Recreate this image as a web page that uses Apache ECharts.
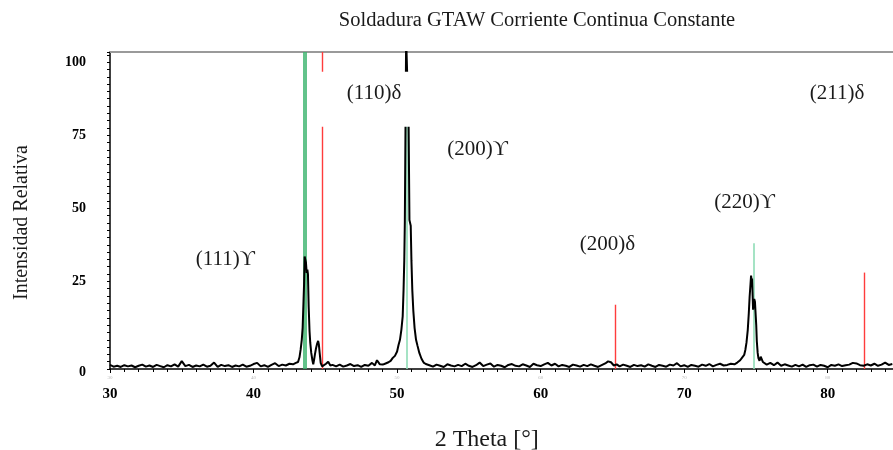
<!DOCTYPE html>
<html>
<head>
<meta charset="utf-8">
<script src="https://cdn.jsdelivr.net/npm/echarts@6/dist/echarts.min.js"></script>
<style>
  html, body { margin: 0; padding: 0; background: #fff; }
  #chart { width: 893px; height: 450px; }
</style>
</head>
<body>
<div id="chart"></div>
<script>
// difractograma: [2theta, intensidad relativa]
var scanLow = [[30.0,-3.6],[30.25,-4.2],[30.5,-3.9],[30.75,-4.3],[31.0,-3.7],[31.25,-4.1],[31.5,-3.8],[31.75,-4.4],[32.0,-3.9],[32.25,-3.5],[32.5,-4.2],[32.75,-3.8],[33.0,-4.3],[33.25,-3.6],[33.5,-4.0],[33.75,-4.4],[34.0,-3.7],[34.25,-4.1],[34.5,-3.4],[34.75,-4.2],[35.0,-2.3],[35.25,-4.0],[35.5,-3.6],[35.75,-4.3],[36.0,-3.8],[36.25,-4.1],[36.5,-3.5],[36.75,-4.2],[37.0,-3.9],[37.25,-2.8],[37.5,-4.3],[37.75,-3.6],[38.0,-4.0],[38.25,-3.7],[38.5,-4.3],[38.75,-3.8],[39.0,-4.1],[39.25,-3.5],[39.5,-4.2],[39.75,-3.9],[40.0,-3.3],[40.25,-2.9],[40.5,-4.1],[40.75,-3.7],[41.0,-4.3],[41.25,-3.6],[41.5,-3.0],[41.75,-4.0],[42.0,-3.5],[42.25,-3.8],[42.5,-3.2],[42.75,-3.4]];
var peak111 = [[42.95,-2.9],[43.1,-2.6],[43.2,-1.0],[43.28,1.6],[43.36,5],[43.42,9.1],[43.48,18],[43.52,24],[43.56,33.5],[43.61,33],[43.65,31.5],[43.7,27.9],[43.75,29],[43.79,27.5],[43.84,16.4],[43.9,8],[43.95,4],[44.02,0.5],[44.1,-2.0],[44.16,-3.4],[44.22,-1.8],[44.28,0.1],[44.35,2.0],[44.42,3.5],[44.5,4.6],[44.55,3.4],[44.6,0.8],[44.68,-3.0],[44.78,-4.1],[44.9,-3.6],[45.05,-3.2],[45.2,-2.5],[45.35,-3.8]];
var scanMid1 = [[45.5,-3.6],[45.75,-4.1],[46.0,-3.5],[46.25,-4.2],[46.5,-3.8],[46.75,-3.3],[47.0,-4.0],[47.25,-3.7],[47.5,-4.3],[47.75,-3.6],[48.0,-3.9],[48.25,-2.9],[48.45,-3.8],[48.6,-2.0],[48.8,-3.4]];
var peak200 = [[49.0,-3.5],[49.2,-3.1],[49.4,-2.7],[49.55,-2.2],[49.7,-1.2],[49.85,-0.5],[50.0,1.0],[50.1,3.2],[50.2,5],[50.3,8.5],[50.39,13],[50.45,22],[50.5,32],[50.54,45.5],[50.6,46],[50.63,108],[50.76,108],[50.8,80],[50.86,46],[50.95,44],[51.0,32],[51.06,22],[51.13,15],[51.22,9],[51.32,5],[51.42,3],[51.55,0.5],[51.7,-1.5],[51.85,-2.8],[52.0,-3.3]];
var scanMid2 = [[52.25,-3.7],[52.5,-4.2],[52.75,-3.5],[53.0,-3.9],[53.25,-4.3],[53.5,-3.4],[53.75,-3.8],[54.0,-4.1],[54.25,-3.6],[54.5,-4.0],[54.75,-3.2],[55.0,-3.9],[55.25,-4.3],[55.5,-3.7],[55.75,-2.8],[56.0,-4.0],[56.25,-3.5],[56.5,-3.1],[56.75,-4.2],[57.0,-3.6],[57.25,-3.9],[57.5,-4.4],[57.75,-3.6],[58.0,-3.3],[58.25,-3.9],[58.5,-4.1],[58.75,-3.4],[59.0,-3.8],[59.25,-4.3],[59.5,-3.2],[59.75,-3.7],[60.0,-4.0],[60.25,-3.4],[60.5,-2.9],[60.75,-3.8],[61.0,-3.2],[61.25,-4.1],[61.5,-3.6],[61.75,-3.9],[62.0,-4.3],[62.25,-3.5],[62.5,-3.8],[62.75,-4.2],[63.0,-3.6],[63.25,-4.0],[63.5,-3.4],[63.75,-3.9],[64.0,-4.3],[64.25,-3.7],[64.5,-3.1],[64.7,-2.4],[64.9,-2.7],[65.1,-3.8],[65.3,-3.4],[65.5,-4.1],[65.75,-3.5],[66.0,-3.9],[66.25,-4.3],[66.5,-3.6],[66.75,-4.0],[67.0,-3.7],[67.25,-4.2],[67.5,-3.4],[67.75,-3.9],[68.0,-4.3],[68.25,-3.6],[68.5,-3.9],[68.75,-4.2],[69.0,-3.5],[69.25,-3.8],[69.5,-3.0],[69.75,-4.1],[70.0,-3.7],[70.25,-4.3],[70.5,-3.6],[70.75,-3.9],[71.0,-4.2],[71.25,-3.5],[71.5,-3.9],[71.75,-3.3],[72.0,-4.1],[72.25,-3.6],[72.5,-3.2],[72.75,-3.8]];
var peak220 = [[73.0,-3.6],[73.25,-3.2],[73.5,-3.4],[73.7,-2.8],[73.9,-2.0],[74.05,-1.0],[74.18,-0.2],[74.26,1.5],[74.34,4],[74.43,8.4],[74.5,14],[74.56,19.8],[74.62,24],[74.66,27],[74.7,25],[74.73,26],[74.77,20],[74.8,15.3],[74.84,17],[74.88,19],[74.93,18],[74.98,17.4],[75.02,10],[75.06,4.5],[75.12,0.5],[75.17,-1.3],[75.25,-2.2],[75.33,-0.8],[75.4,-1.0],[75.48,-2.6],[75.6,-3.2]];
var scanHigh = [[75.75,-3.5],[76.0,-2.9],[76.25,-3.7],[76.5,-2.8],[76.75,-3.9],[77.0,-3.4],[77.25,-3.8],[77.5,-4.2],[77.75,-3.6],[78.0,-4.1],[78.25,-3.5],[78.5,-4.3],[78.75,-3.7],[79.0,-3.5],[79.25,-4.2],[79.5,-3.6],[79.75,-3.9],[80.0,-4.4],[80.25,-3.6],[80.5,-3.9],[80.75,-3.4],[81.0,-4.0],[81.25,-3.7],[81.5,-3.5],[81.75,-2.9],[82.0,-3.1],[82.25,-3.7],[82.5,-3.9],[82.75,-3.4],[83.0,-3.8],[83.25,-3.2],[83.5,-3.9],[83.75,-3.5],[84.0,-2.8],[84.25,-3.6],[84.5,-3.3]];

// lineas de referencia (austenita verde, ferrita roja)
var gammaPos = [43.47, 43.61, 50.66, 74.84];
var gammaInt = [103.5, 103.5, 85, 38];
var gammaCol = ['#3cb46e', '#3cb46e', '#8fdcb6', '#8fdcb6'];
var deltaPos = [44.76, 65.2, 82.55];
var deltaInt = [103.5, 17, 28];

// etiquetas de planos
var planoTxt = ['(111)ϒ', '(110)δ', '(200)ϒ', '(200)δ', '(220)ϒ', '(211)δ'];
var planoX = [38.04, 48.39, 55.6, 64.66, 74.2, 80.65];
var planoY = [32.4, 89.3, 70.3, 37.5, 52.0, 89.4];

// caja blanca del cuadro de texto (110) que tapa las lineas
var cajaX = [47.71];
var cajaY = [87.3];

var yLabels = [0, 25, 50, 75, 100];

var serif = '"Liberation Serif", "DejaVu Serif", "Times New Roman", serif';
var scan = [].concat(scanLow, peak111, scanMid1, peak200, scanMid2, peak220, scanHigh);

var refLines = [];
gammaPos.forEach(function (p, i) {
  refLines.push([{coord: [p, -5], lineStyle: {color: gammaCol[i], width: 1.6, type: 'solid'}}, {coord: [p, gammaInt[i]]}]);
});
deltaPos.forEach(function (p, i) {
  refLines.push([{coord: [p, -5], lineStyle: {color: '#ff3c3c', width: 1.4, type: 'solid'}}, {coord: [p, deltaInt[i]]}]);
});

var planos = planoTxt.map(function (t, i) {
  return {value: [planoX[i], planoY[i]], name: t};
});
var cajas = cajaX.map(function (x, i) { return [x, cajaY[i]]; });

var chart = echarts.init(document.getElementById('chart'), null, {renderer: 'canvas'});
chart.setOption({
  animation: false,
  backgroundColor: '#fff',
  title: {
    text: 'Soldadura GTAW Corriente Continua Constante',
    left: 532, top: 5, textAlign: 'center',
    textStyle: {fontFamily: serif, fontSize: 20.5, fontWeight: 'normal', color: '#1a1a1a'}
  },
  grid: {left: 110, width: 789.5, top: 52, bottom: 81, outerBoundsMode: 'none', containLabel: false},
  xAxis: [{
    type: 'value', min: 30, max: 85, interval: 10,
    name: '2 Theta [°]', nameLocation: 'middle', nameGap: 59,
    nameTextStyle: {fontFamily: serif, fontSize: 24, color: '#1a1a1a', padding: [0, 36, 0, 0]},
    axisLine: {onZero: false, lineStyle: {color: '#000', width: 1.5}},
    axisTick: {length: 4, lineStyle: {color: '#000'}},
    minorTick: {show: true, splitNumber: 10, length: 3, lineStyle: {color: '#000'}},
    splitLine: {show: false},
    axisLabel: {
      margin: 5,
      formatter: function (v) { return v % 10 === 0 ? '{s|' + v + '}\n{b|' + v + '}' : ''; },
      rich: {
        s: {fontSize: 5, color: '#b8b8b8', lineHeight: 8, fontFamily: serif},
        b: {fontSize: 15, fontWeight: 'bold', color: '#000', lineHeight: 24, fontFamily: serif}
      }
    }
  }, {
    type: 'value', position: 'top', min: 30, max: 85,
    axisLine: {show: true, onZero: false, lineStyle: {color: '#9a9a9a', width: 2}},
    axisTick: {show: false}, axisLabel: {show: false}, splitLine: {show: false}
  }],
  yAxis: {
    type: 'value', min: -5, max: 103.5, interval: 2.5,
    name: 'Intensidad Relativa', nameLocation: 'middle', nameGap: 78,
    nameTextStyle: {fontFamily: serif, fontSize: 20, color: '#1a1a1a', padding: [0, 24, 0, 0]},
    axisLine: {show: true, onZero: false, lineStyle: {color: '#000', width: 1.5}},
    axisTick: {length: 3, lineStyle: {color: '#000'}},
    splitLine: {show: false},
    axisLabel: {
      customValues: yLabels, margin: 24,
      fontFamily: serif, fontSize: 14, fontWeight: 'bold', color: '#000',
      formatter: function (v) { return v === 0 ? '{z|0}' : String(v); },
      rich: {z: {fontFamily: serif, fontSize: 14, fontWeight: 'bold', color: '#000', padding: [36, 0, 0, 0]}}
    }
  },
  series: [{
    type: 'line', data: [], z: 1, silent: true,
    markLine: {z: 1, silent: true, symbol: 'none', label: {show: false}, animation: false,
      lineStyle: {type: 'solid'}, emphasis: {disabled: true}, data: refLines}
  }, {
    type: 'line', data: scan, z: 3, symbol: 'none', silent: true,
    lineStyle: {color: '#000', width: 2}
  }, {
    type: 'scatter', data: cajas, z: 6, symbolSize: 0, silent: true,
    itemStyle: {opacity: 1},
    label: {
      show: true, position: 'inside', formatter: ' ', opacity: 1,
      width: 98, height: 55, backgroundColor: '#fff'
    }
  }, {
    type: 'scatter', data: planos, z: 7, symbolSize: 0, silent: true,
    itemStyle: {opacity: 1},
    label: {
      show: true, position: 'inside', formatter: '{b}', opacity: 1,
      fontFamily: serif, fontSize: 21, color: '#1a1a1a', backgroundColor: '#fff'
    }
  }]
});
</script>
</body>
</html>
